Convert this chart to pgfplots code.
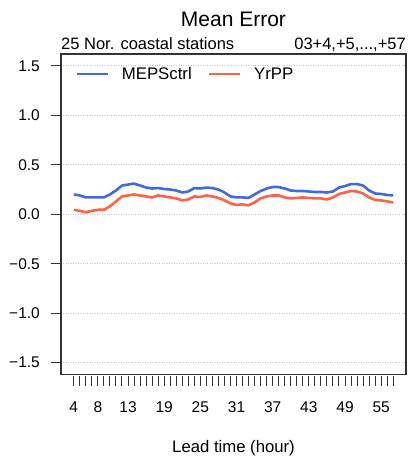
\documentclass[border=0pt]{standalone}
\usepackage{fontspec}
\setmainfont{Liberation Sans}
\usepackage{pgfplots}
\pgfplotsset{compat=1.18}
\usepackage{pgfplotstable}
\definecolor{mblue}{RGB}{65,105,225}
\definecolor{mred}{RGB}{255,99,71}
\definecolor{axgray}{RGB}{51,51,51}

\pgfplotstableread{
h blue red
4 0.200 0.045
5 0.190 0.035
6 0.170 0.020
7 0.170 0.035
8 0.170 0.045
9 0.170 0.045
10 0.200 0.080
11 0.240 0.130
12 0.290 0.180
13 0.300 0.190
14 0.310 0.200
15 0.290 0.190
16 0.270 0.180
17 0.260 0.170
18 0.265 0.190
19 0.255 0.180
20 0.250 0.170
21 0.240 0.160
22 0.220 0.140
23 0.230 0.150
24 0.265 0.180
25 0.260 0.175
26 0.270 0.190
27 0.265 0.180
28 0.250 0.165
29 0.220 0.140
30 0.180 0.110
31 0.170 0.095
32 0.170 0.100
33 0.165 0.090
34 0.200 0.120
35 0.235 0.160
36 0.260 0.180
37 0.275 0.190
38 0.275 0.190
39 0.260 0.170
40 0.240 0.160
41 0.235 0.165
42 0.235 0.170
43 0.230 0.165
44 0.225 0.160
45 0.225 0.160
46 0.220 0.150
47 0.230 0.170
48 0.270 0.205
49 0.285 0.220
50 0.305 0.235
51 0.305 0.230
52 0.290 0.210
53 0.240 0.170
54 0.210 0.145
55 0.205 0.140
56 0.195 0.130
57 0.190 0.120
}\datatable

\begin{document}
\begin{tikzpicture}[x=1pt,y=1pt]
\useasboundingbox (0,0) rectangle (408,462);
\begin{axis}[
  at={(61pt,87.5pt)}, anchor=south west,
  scale only axis, width=345pt, height=320.5pt,
  xmin=1.88, xmax=59.12, ymin=-1.62, ymax=1.62,
  axis line style={axgray, line width=1.1pt},
  every tick/.style={axgray, line width=1pt},
  tick align=outside,
  major tick length=10pt,
  xtick={4,...,57}, xticklabels={},
  xtick pos=lower, ytick pos=left,
  every major x tick/.append style={yshift=-1.5pt},
  extra x ticks={4,8,13,19,25,31,37,43,49,55},
  extra x tick labels={4,8,13,19,25,31,37,43,49,55},
  extra x tick style={major tick length=0pt, grid=none,
     xticklabel style={anchor=base, inner sep=0pt, yshift=-38.2pt}},
  ytick={-1.5,-1,-0.5,0,0.5,1,1.5},
  yticklabels={−1.5,−1.0,−0.5,0.0,0.5,1.0,1.5},
  yticklabel style={anchor=east, inner sep=0pt, xshift=-11pt},
  tick label style={font=\fontsize{15.5}{18}\selectfont},
  ymajorgrids, xmajorgrids=false,
  grid style={gray!45, dotted, line width=0.8pt},
  xlabel={Lead time (hour)},
  xlabel style={at={(axis description cs:0.5,0)}, anchor=base, inner sep=0pt,
     yshift=-78.2pt, font=\fontsize{16.7}{20}\selectfont},
  legend style={draw=none, fill=none, inner sep=0pt, legend columns=2,
     at={(axis description cs:0.0406,0.9376)}, anchor=west,
     font=\fontsize{16.8}{20}\selectfont,
     column sep=0pt, row sep=0pt,
     nodes={inner sep=0pt}},
  legend cell align=left,
  legend image code/.code={\draw[#1] (0pt,0pt) -- (31pt,0pt); \path (44pt,0pt);},
  clip=false,
]
\addplot[mblue, line width=2.6pt, line join=round] table[x=h, y=blue] {\datatable};
\addlegendentry{MEPSctrl\rule{15.7pt}{0pt}}
\addplot[mred, line width=2.6pt, line join=round] table[x=h, y=red] {\datatable};
\addlegendentry{YrPP}
\node[anchor=base, inner sep=0pt, font=\fontsize{21}{25}\selectfont]
  at (axis description cs:0.5,1) [yshift=27.5pt] {Mean Error};
\node[anchor=base west, inner sep=0pt, font=\fontsize{16.5}{20}\selectfont]
  at (axis description cs:0,1) [yshift=4.5pt] {25 Nor. coastal stations};
\node[anchor=base east, inner sep=0pt, font=\fontsize{16.5}{20}\selectfont]
  at (axis description cs:1,1) [yshift=4.5pt] {03+4,+5,...,+57};
\end{axis}
\end{tikzpicture}
\end{document}
